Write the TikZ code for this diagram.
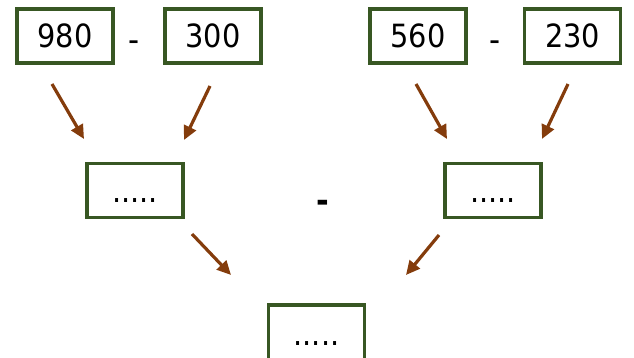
\documentclass[tikz,border=0pt]{standalone}
\usepackage{fontspec}
\setmainfont{DejaVu Sans Condensed}
\usetikzlibrary{arrows.meta}
\definecolor{boxgreen}{HTML}{385723}
\definecolor{arrbrown}{HTML}{843C0C}
\tikzset{
  numbox/.style={draw=boxgreen, line width=3.6pt, minimum width=96pt, minimum height=54pt, inner sep=0pt, text height=23pt, text depth=0pt, font=\fontsize{32}{36}\selectfont, text=black},
  opsign/.style={font=\fontsize{34}{36}\selectfont, inner sep=0pt},
  boldsign/.style={font=\fontsize{34}{36}\selectfont\bfseries, inner sep=0pt},
  brownarrow/.style={draw=arrbrown, line width=3.2pt, -{Triangle[length=14pt,width=13pt]}}
}
\begin{document}
\begin{tikzpicture}[x=1pt,y=-1pt]
\useasboundingbox (0,0) rectangle (634,358);
% top row
\node[numbox] (a) at (65,36) {980};
\node[numbox] (b) at (213,36) {300};
\node[opsign] (m1) at (134,46) {-};
\node[numbox] (c) at (418,36) {560};
\node[numbox] (d) at (572.5,36) {230};
\node[opsign] (m2) at (495,46) {-};
% middle row
\node[numbox] (e) at (135,190.5) {.....};
\node[numbox] (f) at (493,190.5) {.....};
\node[boldsign] (m3) at (323,206) {-};
% bottom
\node[numbox, minimum height=58pt, anchor=north] (g) at (316.5,303) {.....};
% arrow endpoints
\coordinate (a1s) at (52,84);  \coordinate (a1e) at (84,139);
\coordinate (a2s) at (210,86); \coordinate (a2e) at (184,140);
\coordinate (a3s) at (416,84); \coordinate (a3e) at (447,139);
\coordinate (a4s) at (568,84); \coordinate (a4e) at (542,139);
\coordinate (a5s) at (192,234); \coordinate (a5e) at (231,275);
\coordinate (a6s) at (439,235); \coordinate (a6e) at (406,275);
\draw[brownarrow] (a1s) -- (a1e);
\draw[brownarrow] (a2s) -- (a2e);
\draw[brownarrow] (a3s) -- (a3e);
\draw[brownarrow] (a4s) -- (a4e);
\draw[brownarrow] (a5s) -- (a5e);
\draw[brownarrow] (a6s) -- (a6e);
\end{tikzpicture}
\end{document}
